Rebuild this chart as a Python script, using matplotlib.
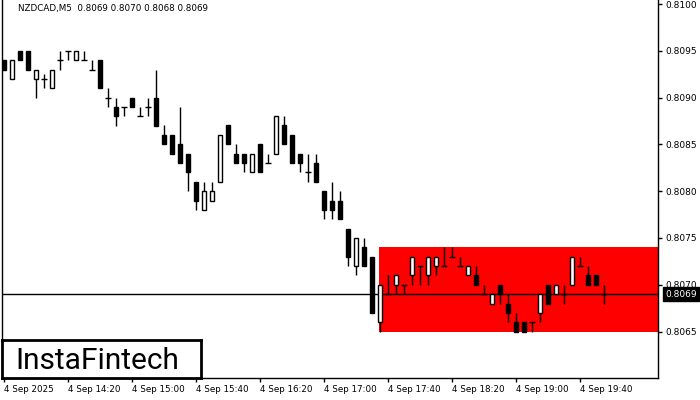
import matplotlib
matplotlib.use('Agg')
import matplotlib.pyplot as plt
from matplotlib.patches import Rectangle

# 5-minute candles, NZDCAD, 4 Sep 2025 from 13:40
opens = [0.8094, 0.8092, 0.8095, 0.8095, 0.8092, 0.8092, 0.8091, 0.8094, 0.8095, 0.8094,
         0.8094, 0.8093, 0.8094, 0.8090, 0.8089, 0.8089, 0.8090, 0.8088, 0.8089, 0.8090,
         0.8086, 0.8086, 0.8085, 0.8084, 0.8081, 0.8078, 0.8079, 0.8081, 0.80871, 0.8084,
         0.8084, 0.8082, 0.8085, 0.8083, 0.8084, 0.80871, 0.8086, 0.8084, 0.8082, 0.8083,
         0.8080, 0.8079, 0.8079, 0.8076, 0.8072, 0.8074, 0.8073, 0.8066, 0.8069, 0.8070,
         0.8070, 0.8071, 0.8072, 0.8071, 0.8072, 0.8072, 0.8073, 0.8072, 0.8071, 0.8071,
         0.8069, 0.8068, 0.8070, 0.8068, 0.8066, 0.8066, 0.8066, 0.8067, 0.8070, 0.8069,
         0.8069, 0.8070, 0.8072, 0.8071, 0.8071, 0.8069]
highs = [0.8094, 0.8094, 0.8095, 0.8095, 0.8093, 0.80925, 0.8093, 0.8095, 0.8095, 0.8095,
         0.8095, 0.8094, 0.8094, 0.8091, 0.8090, 0.8089, 0.8090, 0.8089, 0.8090, 0.8093,
         0.80871, 0.8086, 0.8089, 0.8084, 0.8081, 0.8081, 0.8081, 0.8086, 0.80871, 0.8085,
         0.8084, 0.8084, 0.8085, 0.8084, 0.8088, 0.8088, 0.8086, 0.8084, 0.8084, 0.8084,
         0.8080, 0.8081, 0.8080, 0.8076, 0.8075, 0.8075, 0.8073, 0.8070, 0.8071, 0.8071,
         0.8070, 0.8073, 0.8072, 0.8073, 0.8073, 0.8074, 0.8074, 0.8073, 0.8072, 0.8072,
         0.8070, 0.8069, 0.8070, 0.8069, 0.8067, 0.8066, 0.8066, 0.8069, 0.8070, 0.8070,
         0.8070, 0.8073, 0.8073, 0.8072, 0.8071, 0.8070]
lows = [0.8093, 0.8092, 0.8094, 0.8093, 0.8090, 0.8091, 0.8091, 0.8093, 0.8094, 0.8094,
        0.8094, 0.8093, 0.8091, 0.8089, 0.8087, 0.8088, 0.8089, 0.8088, 0.8088, 0.8087,
        0.8085, 0.8084, 0.8083, 0.8080, 0.8078, 0.8078, 0.8079, 0.8081, 0.8085, 0.8083,
        0.8082, 0.8082, 0.8082, 0.8083, 0.8084, 0.8085, 0.8083, 0.8082, 0.8081, 0.8081,
        0.8077, 0.8077, 0.8077, 0.8072, 0.8071, 0.8072, 0.8067, 0.8065, 0.8069, 0.8069,
        0.8069, 0.8070, 0.8070, 0.8070, 0.8071, 0.8072, 0.8073, 0.8072, 0.8071, 0.8070,
        0.8069, 0.8068, 0.8068, 0.8066, 0.8065, 0.8065, 0.8065, 0.8066, 0.8068, 0.8069,
        0.8068, 0.8070, 0.8072, 0.8070, 0.8070, 0.8068]
closes = [0.8093, 0.8094, 0.8094, 0.8093, 0.8093, 0.8092, 0.8093, 0.8094, 0.8095, 0.8095,
          0.8094, 0.8093, 0.8091, 0.8090, 0.8088, 0.8089, 0.8089, 0.8088, 0.8089, 0.8087,
          0.8085, 0.8084, 0.8083, 0.8082, 0.8079, 0.8080, 0.8080, 0.8086, 0.8085, 0.8083,
          0.8083, 0.8084, 0.8082, 0.8083, 0.8088, 0.8085, 0.8083, 0.8083, 0.8082, 0.8081,
          0.8078, 0.8078, 0.8077, 0.8073, 0.8075, 0.8072, 0.8067, 0.8070, 0.8069, 0.8071,
          0.8070, 0.8073, 0.8072, 0.8073, 0.8073, 0.8072, 0.8073, 0.8072, 0.8072, 0.8070,
          0.8069, 0.8069, 0.8069, 0.8067, 0.8065, 0.8065, 0.8066, 0.8069, 0.8068, 0.8070,
          0.8069, 0.8073, 0.8072, 0.8070, 0.8070, 0.8069]

time_labels = ['4 Sep 2025', '4 Sep 14:20', '4 Sep 15:00', '4 Sep 15:40', '4 Sep 16:20',
               '4 Sep 17:00', '4 Sep 17:40', '4 Sep 18:20', '4 Sep 19:00', '4 Sep 19:40']
bars_per_label = 8
price_ticks = [0.8065, 0.8070, 0.8075, 0.8080, 0.8085, 0.8090, 0.8095, 0.8100]

current_price = 0.8069
zone_start = 47          # bar index where the red zone begins
zone_low, zone_high = 0.8065, 0.8074
title = 'NZDCAD,M5  0.8069 0.8070 0.8068 0.8069'

# figure and main axes
fig = plt.figure(figsize=(7, 4), dpi=100)
ax = fig.add_axes([2 / 700, 22 / 400, 656 / 700, 378 / 400])
n = len(opens)
ax.set_xlim(-0.25, 81.75)
ax.set_ylim(0.806004, 0.810043)

# red zone
ax.add_patch(Rectangle((zone_start - 0.1, zone_low), ax.get_xlim()[1] - zone_start + 0.1,
                       zone_high - zone_low, facecolor='#ff0000', edgecolor='none', zorder=1))

# current price line
ax.axhline(current_price, color='black', lw=1, zorder=2)

# candles
w = 0.55
for i in range(n):
    o, h, l, c = opens[i], highs[i], lows[i], closes[i]
    ax.vlines(i, l, h, color='black', lw=1, zorder=3)
    if o == c:
        ax.hlines(o, i - w / 2 - 0.05, i + w / 2 + 0.05, color='black', lw=1, zorder=4)
    else:
        face = 'white' if c > o else 'black'
        ax.bar(i, abs(c - o), bottom=min(o, c), width=w, color=face,
               edgecolor='black', linewidth=1, zorder=4)

# axes styling
ax.spines['top'].set_visible(False)
for s in ['left', 'right', 'bottom']:
    ax.spines[s].set_linewidth(1)
ax.yaxis.tick_right()
ax.set_yticks(price_ticks)
ax.set_yticklabels([f'{p:.4f}' for p in price_ticks], fontsize=6.5)
ax.tick_params(axis='y', direction='out', length=3, width=1, pad=2)
ax.set_xticks([k * bars_per_label for k in range(len(time_labels))])
ax.set_xticklabels(time_labels, fontsize=6.3, ha='left')
ax.tick_params(axis='x', direction='out', length=3, width=1, pad=2)

# price tag on the right scale
ax.annotate(f'{current_price:.4f}', xy=(1.0, current_price), xycoords=('axes fraction', 'data'),
            xytext=(5, 0), textcoords='offset points', va='center', ha='left',
            fontsize=6.5, color='white',
            bbox=dict(boxstyle='square,pad=0.25', facecolor='black', edgecolor='black'))

# title
fig.text(18 / 700, 1 - 8 / 400, title, fontsize=6.3, va='center', ha='left', color='#000000')

# logo box
logo = fig.add_axes([2 / 700, 22 / 400, 199 / 700, 38 / 400])
logo.set_xticks([])
logo.set_yticks([])
logo.set_facecolor('white')
for s in logo.spines.values():
    s.set_linewidth(2)
logo.text(0.48, 0.45, 'InstaFintech', fontsize=21.5, family='Roboto',
          ha='center', va='center', color='black', transform=logo.transAxes)

fig.savefig('out.png', dpi=100)
